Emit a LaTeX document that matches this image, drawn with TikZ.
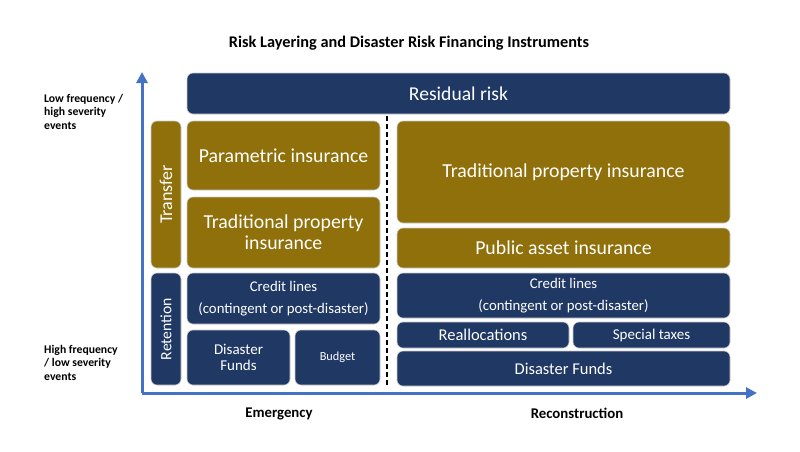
\documentclass[tikz,border=0pt]{standalone}
\usepackage{fontspec}
\setmainfont{Carlito}
\usetikzlibrary{arrows.meta}
\definecolor{navy}{RGB}{31,56,100}
\definecolor{gold}{RGB}{143,112,10}
\definecolor{axisblue}{RGB}{68,114,196}
\definecolor{rim}{RGB}{205,205,205}
\tikzset{
  layer/.style={draw=rim,line width=0.6pt,rounded corners=6pt,text=white,align=center,inner sep=0pt},
  navylayer/.style={layer,fill=navy},
  goldlayer/.style={layer,fill=gold},
  axislabel/.style={font=\bfseries\fontsize{14.8}{17}\selectfont},
  sidelabel/.style={font=\bfseries\fontsize{11.7}{13.5}\selectfont,align=left,anchor=north west,inner sep=0pt}
}
\newcommand{\fs}[2]{\fontsize{#1}{#2}\selectfont}
\begin{document}
\begin{tikzpicture}[x=1pt,y=-1pt]
\useasboundingbox (0,0) rectangle (800,451);
\node[font=\bfseries\fs{16.3}{18}] (title) at (409,43) {Risk Layering and Disaster Risk Financing Instruments};
\node[sidelabel] (lowfreq) at (44,94) {Low frequency /\\high severity\\events};
\node[sidelabel] (highfreq) at (44,345) {High frequency\\/ low severity\\events};
\coordinate (org) at (142,393);
\coordinate (ytip) at (142,72);
\coordinate (xtip) at (757,393);
\draw[axisblue,line width=3pt,-{Triangle[length=11pt,width=11pt]}] (org) -- (ytip);
\draw[axisblue,line width=3pt,-{Triangle[length=11pt,width=11pt]}] (org) -- (xtip);
\coordinate (dtop) at (387,116);
\coordinate (dbot) at (387,386);
\draw[line width=1.3pt,dash pattern=on 5pt off 3pt] (dtop) -- (dbot);
\node[navylayer,minimum width=543pt,minimum height=41pt,font=\fs{19.6}{22}] (resid) at (458.5,93.5) {Residual risk};
\node[goldlayer,rotate=90,minimum width=147pt,minimum height=30pt,font=\fs{18}{20}] (transfer) at (166,194.5) {Transfer};
\node[navylayer,rotate=90,minimum width=112pt,minimum height=30pt,font=\fs{15.7}{17}] (retention) at (166,329) {Retention};
\node[goldlayer,minimum width=193pt,minimum height=69pt,font=\fs{19.8}{22}] (param) at (283.5,155.5) {Parametric insurance};
\node[goldlayer,minimum width=193pt,minimum height=71pt,font=\fs{19.8}{21}] (tradL) at (283.5,232.5) {Traditional property\\insurance};
\node[navylayer,minimum width=193pt,minimum height=51pt,font=\fs{14.8}{22}] (creditL) at (283.5,298.5) {Credit lines\\(contingent or post-disaster)};
\node[navylayer,minimum width=103pt,minimum height=55pt,font=\fs{15}{16.5}] (fundsL) at (238.5,357.5) {Disaster\\Funds};
\node[navylayer,minimum width=85pt,minimum height=55pt,font=\fs{12.3}{14}] (budget) at (337.5,357.5) {Budget};
\node[goldlayer,minimum width=333pt,minimum height=102pt,font=\fs{19.8}{22}] (tradR) at (563.5,172) {Traditional property insurance};
\node[goldlayer,minimum width=333pt,minimum height=40pt,font=\fs{19.8}{22}] (public) at (563.5,248) {Public asset insurance};
\node[navylayer,minimum width=333pt,minimum height=45pt,font=\fs{14.8}{22}] (creditR) at (563.5,295.5) {Credit lines\\(contingent or post-disaster)};
\node[navylayer,minimum width=172pt,minimum height=26pt,font=\fs{16.5}{18}] (realloc) at (483,335) {Reallocations};
\node[navylayer,minimum width=157pt,minimum height=26pt,font=\fs{15}{17}] (taxes) at (651.5,335) {Special taxes};
\node[navylayer,minimum width=333pt,minimum height=35pt,font=\fs{16.5}{18}] (fundsR) at (563.5,368.5) {Disaster Funds};
\node[axislabel] (emerg) at (279,414) {Emergency};
\node[axislabel] (recon) at (577,413) {Reconstruction};
\end{tikzpicture}
\end{document}
